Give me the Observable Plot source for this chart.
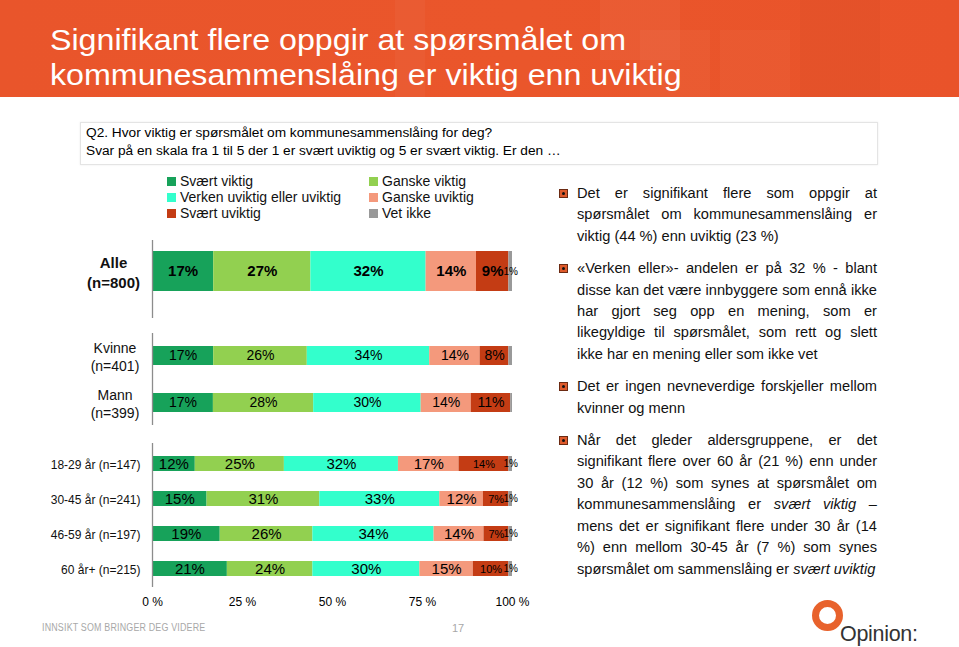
<!DOCTYPE html>
<html><head><meta charset="utf-8">
<script src="https://cdn.jsdelivr.net/npm/d3@7"></script>
<script src="https://cdn.jsdelivr.net/npm/@observablehq/plot@0.6"></script>
<style>
body{margin:0;background:#fff;font-family:"Liberation Sans",Arial,sans-serif;}
#page{position:relative;width:959px;height:647px;overflow:hidden;background:#fff;}
#banner{position:absolute;left:0;top:0;width:959px;height:97px;background:linear-gradient(90deg,#e9552b 0%,#ea562b 55%,#e9532a 100%);overflow:hidden;}
.tile{position:absolute;}
#title{position:absolute;left:50px;top:23px;color:#fff;font-size:29px;line-height:35px;white-space:nowrap;transform:scaleX(1.11);transform-origin:left top;}
#qbox{position:absolute;left:80px;top:122px;width:796px;height:41px;border:1px solid #e4e4e4;box-shadow:0 0 2px rgba(0,0,0,0.08);}
#qbox div{position:absolute;left:5px;font-size:13.7px;color:#000;white-space:nowrap;}
#legend{position:absolute;left:167px;top:173px;display:grid;grid-template-columns:202px 200px;row-gap:0;font-size:14px;color:#111;}
#legend .item{display:flex;align-items:center;height:16px;white-space:nowrap;}
#legend .sw{width:9px;height:9px;margin-right:4px;}
.chart{position:absolute;left:0;}
#notes{position:absolute;left:577px;top:183px;width:300px;font-size:14.63px;line-height:21.4px;color:#111;text-align:justify;}
#notes p{margin:0 0 11px 0;position:relative;}
#notes p .b{position:absolute;left:-18px;top:6px;width:9px;height:9px;background:#de5a2b;border:1px solid #6b2a12;box-sizing:border-box;}
#notes p .b:after{content:"";position:absolute;left:2px;top:2px;width:3px;height:3px;border-radius:50%;background:#111;}
#footer{position:absolute;left:42px;top:622px;font-size:10px;color:#a8a8a8;transform:scaleX(0.89);transform-origin:left center;white-space:nowrap;letter-spacing:0.2px;}
#pnum{position:absolute;left:452px;top:622px;font-size:11px;color:#a8a8a8;}
#ring{position:absolute;left:812px;top:600px;width:17px;height:17px;border:7px solid #e8622c;border-radius:50%;}
#opinion{position:absolute;left:840px;top:622px;font-size:21.5px;color:#333;letter-spacing:-0.3px;}
</style></head>
<body><div id="page">
<div id="banner">
  <div class="tile" style="left:395px;top:0;width:30px;height:97px;background:rgba(255,255,255,0.035)"></div>
  <div class="tile" style="left:600px;top:0;width:80px;height:60px;background:rgba(255,255,255,0.04)"></div>
  <div class="tile" style="left:640px;top:30px;width:70px;height:67px;background:rgba(255,255,255,0.035)"></div>
  <div class="tile" style="left:720px;top:30px;width:70px;height:67px;background:rgba(255,255,255,0.03)"></div>
  <div class="tile" style="left:800px;top:0;width:80px;height:97px;background:rgba(0,0,0,0.02)"></div>
  <div id="title">Signifikant flere oppgir at spørsmålet om<br>kommunesammenslåing er viktig enn uviktig</div>
</div>
<div id="qbox"><div style="top:2px">Q2. Hvor viktig er spørsmålet om kommunesammenslåing for deg?</div><div style="top:20px">Svar på en skala fra 1 til 5 der 1 er svært uviktig og 5 er svært viktig. Er den …</div></div>
<div id="legend"></div>
<div id="chartA" class="chart" style="top:240px"></div>
<div id="chartB" class="chart" style="top:333px"></div>
<div id="chartC" class="chart" style="top:443px"></div>
<div id="notes">
<p><span class="b"></span>Det er signifikant flere som oppgir at spørsmålet om kommunesammenslåing er viktig (44 %) enn uviktig (23 %)</p>
<p><span class="b"></span>«Verken eller»- andelen er på 32 % - blant disse kan det være innbyggere som ennå ikke har gjort seg opp en mening, som er likegyldige til spørsmålet, som rett og slett ikke har en mening eller som ikke vet</p>
<p><span class="b"></span>Det er ingen nevneverdige forskjeller mellom kvinner og menn</p>
<p><span class="b"></span>Når det gleder aldersgruppene, er det signifikant flere over 60 år (21 %) enn under 30 år (12 %) som synes at spørsmålet om kommunesammenslåing er <i>svært viktig</i> – mens det er signifikant flere under 30 år (14 %) enn mellom 30-45 år (7 %) som synes spørsmålet om sammenslåing er <i>svært uviktig</i></p>
</div>
<div id="footer">INNSIKT SOM BRINGER DEG VIDERE</div>
<div id="pnum">17</div>
<div id="ring"></div>
<div id="opinion">Opinion:</div>
</div>
<script>
const categories = ["Svært viktig","Ganske viktig","Verken uviktig eller uviktig","Ganske uviktig","Svært uviktig","Vet ikke"];
const colors = ["#17a25a","#92d050","#33ffcc","#f4997c","#c43c14","#999999"];

const totalGroups = ["Alle (n=800)"];
const totalValues = [[17,27,32,14,9,1]];

const genderGroups = ["Kvinne (n=401)","Mann (n=399)"];
const genderValues = [
  [17,26,34,14,8,1],
  [17,28,30,14,11,0.5]
];

const ageGroups = ["18-29 år (n=147)","30-45 år (n=241)","46-59 år (n=197)","60 år+ (n=215)"];
const ageValues = [
  [12,25,32,17,14,1],
  [15,31,33,12,7,1],
  [19,26,34,14,7,1],
  [21,24,30,15,10,1]
];

const xTicks = [0,25,50,75,100];

// legend
const leg = document.getElementById("legend");
categories.forEach((c,i)=>{
  const it=document.createElement("div");it.className="item";
  const sw=document.createElement("span");sw.className="sw";sw.style.background=colors[i];
  it.appendChild(sw);it.appendChild(document.createTextNode(c));leg.appendChild(it);
});

function rows(groups, values){
  return groups.flatMap((g,i)=>categories.map((c,j)=>({group:g,cat:c,value:values[i][j]})));
}
const FONT = '"Liberation Sans", Arial, sans-serif';

function makePlot({groups, values, height, marginBottom, range, paddingInner, labelFmt, labelSize, labelWeight, labelAnchor, labelDx, bigSize, bigWeight, smallSize, tinySize, hideCats, axis}){
  const data = rows(groups, values);
  const smallCats = ["Svært uviktig"];
  const st = (o)=>Plot.stackX({x:"value", y:"group", z:"cat", offset:"normalize", ...o});
  const marks = [
    Plot.barX(data, st({fill:"cat"})),
    Plot.text(data, st({text: d => (d.cat==="Vet ikke" || smallCats.includes(d.cat)) ? null : d.value+"%", fill:"#000", fontSize:bigSize, fontWeight:bigWeight})),
    Plot.text(data, st({text: d => smallCats.includes(d.cat) ? d.value+"%" : null, fill:"#000", fontSize:smallSize, fontWeight:bigWeight})),
    Plot.text(data, st({text: d => (d.cat==="Vet ikke" && !hideCats.includes(d.cat)) ? d.value+"%" : null, fill:"#000", fontSize:tinySize})),
    Plot.ruleX([0], {stroke:"#8c8c8c", strokeWidth:1.3}),
    Plot.text(groups, {y: d=>d, text: labelFmt, frameAnchor:"left", textAnchor:labelAnchor, dx:labelDx, fontSize:labelSize, fontWeight:labelWeight, fill:"#111", lineHeight:1.35})
  ];
  if (axis) marks.push(Plot.axisX({ticks: xTicks.map(v=>v/100), tickFormat: d=>Math.round(d*100)+" %", tickSize:0, tickPadding:10, fontSize:12, fill:"#000", label:null}));
  return Plot.plot({
    width:540, height, marginLeft:152, marginRight:28, marginTop:0, marginBottom,
    x:{domain:[0,1], axis:null},
    y:{domain:groups, range, paddingInner, paddingOuter:0, axis:null},
    color:{domain:categories, range:colors},
    style:{fontFamily:FONT, background:"transparent", overflow:"visible"},
    marks
  });
}

document.getElementById("chartA").appendChild(makePlot({
  groups: totalGroups, values: totalValues, height:78, marginBottom:0, range:[11,51], paddingInner:0,
  labelFmt: d=>d.replace(" ","\n"), labelSize:15, labelWeight:"bold", labelAnchor:"middle", labelDx:-39,
  bigSize:15, bigWeight:"bold", smallSize:15, tinySize:10, hideCats:[]
}));
document.getElementById("chartB").appendChild(makePlot({
  groups: genderGroups, values: genderValues, height:92, marginBottom:0, range:[13,79], paddingInner:28/47,
  labelFmt: d=>d.replace(" ","\n"), labelSize:14, labelWeight:"normal", labelAnchor:"middle", labelDx:-37.5,
  bigSize:14, bigWeight:"normal", smallSize:14, tinySize:10, hideCats:["Vet ikke"]
}));
document.getElementById("chartC").appendChild(makePlot({
  groups: ageGroups, values: ageValues, height:172, marginBottom:28, range:[12,134], paddingInner:0.58,
  labelFmt: d=>d, labelSize:12, labelWeight:"normal", labelAnchor:"end", labelDx:-12,
  bigSize:15, bigWeight:"normal", smallSize:11, tinySize:10, hideCats:[], axis:true
}));
</script>
</body></html>
